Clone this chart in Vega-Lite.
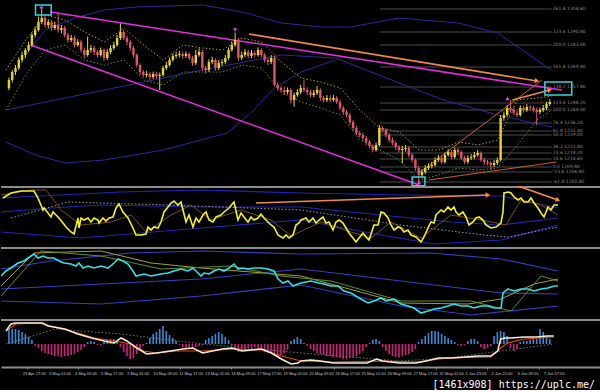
{
"$schema":"https://vega.github.io/schema/vega-lite/v6.json",
"background":"#000000",
"padding":0,
"spacing":0,
"config":{"view":{"stroke":null},"concat":{"spacing":0}},
"title":{"text":"[1461x908] https://uplc.me/","orient":"bottom","anchor":"end","color":"#ffffff","fontSize":10,"font":"DejaVu Sans Mono","fontWeight":"normal","offset":3,"dx":-7},
"datasets":{
"candles":[
{"i":0,"o":1257,"h":1263.5,"l":1255.8,"c":1262},{"i":1,"o":1262,"h":1268,"l":1260.5,"c":1266.8},{"i":2,"o":1266.8,"h":1271,"l":1265,"c":1269.2},{"i":3,"o":1269.2,"h":1275.5,"l":1268,"c":1274},{"i":4,"o":1274,"h":1279,"l":1272.5,"c":1277},{"i":5,"o":1277,"h":1281.2,"l":1275,"c":1280},{"i":6,"o":1280,"h":1285,"l":1279,"c":1283},{"i":7,"o":1283,"h":1290.5,"l":1282,"c":1289},{"i":8,"o":1289,"h":1294,"l":1287.5,"c":1292},{"i":9,"o":1292,"h":1300,"l":1291,"c":1296.8},
{"i":10,"o":1296.8,"h":1304.5,"l":1295.5,"c":1299.2},{"i":11,"o":1299.2,"h":1300.5,"l":1293.5,"c":1295},{"i":12,"o":1295,"h":1298.5,"l":1293,"c":1296.8},{"i":13,"o":1296.8,"h":1298,"l":1291.5,"c":1293.2},{"i":14,"o":1293.2,"h":1297,"l":1292,"c":1295},{"i":15,"o":1295,"h":1302,"l":1290.5,"c":1292},{"i":16,"o":1292,"h":1295,"l":1290,"c":1293.2},{"i":17,"o":1293.2,"h":1294.5,"l":1287.5,"c":1289},{"i":18,"o":1289,"h":1290.2,"l":1284.5,"c":1286},{"i":19,"o":1286,"h":1289,"l":1284.8,"c":1287.2},
{"i":20,"o":1287.2,"h":1288.5,"l":1281.5,"c":1283},{"i":21,"o":1283,"h":1286.5,"l":1282,"c":1284.8},{"i":22,"o":1284.8,"h":1286,"l":1278.5,"c":1280},{"i":23,"o":1280,"h":1281.5,"l":1275,"c":1277},{"i":24,"o":1277,"h":1288,"l":1276,"c":1280},{"i":25,"o":1280,"h":1283,"l":1278.5,"c":1281.2},{"i":26,"o":1281.2,"h":1282.5,"l":1277,"c":1278.8},{"i":27,"o":1278.8,"h":1280,"l":1275.5,"c":1277},{"i":28,"o":1277,"h":1281.5,"l":1276,"c":1280},{"i":29,"o":1280,"h":1281,"l":1273.5,"c":1275.2},
{"i":30,"o":1275.2,"h":1280.5,"l":1274,"c":1278.8},{"i":31,"o":1278.8,"h":1283,"l":1277.5,"c":1281.2},{"i":32,"o":1281.2,"h":1285,"l":1280,"c":1283},{"i":33,"o":1283,"h":1289,"l":1282,"c":1287.2},{"i":34,"o":1287.2,"h":1296,"l":1286,"c":1290.8},{"i":35,"o":1290.8,"h":1292,"l":1286,"c":1287.2},{"i":36,"o":1287.2,"h":1288.5,"l":1283,"c":1284.8},{"i":37,"o":1284.8,"h":1286,"l":1279.5,"c":1281.2},{"i":38,"o":1281.2,"h":1282.5,"l":1275.5,"c":1277},{"i":39,"o":1277,"h":1278,"l":1269.5,"c":1271},
{"i":40,"o":1271,"h":1272,"l":1265,"c":1266.8},{"i":41,"o":1266.8,"h":1268,"l":1263.5,"c":1265},{"i":42,"o":1265,"h":1267.5,"l":1263.5,"c":1265.6},{"i":43,"o":1265.6,"h":1266.8,"l":1262,"c":1263.8},{"i":44,"o":1263.8,"h":1267,"l":1262.5,"c":1265.6},{"i":45,"o":1265.6,"h":1267,"l":1262.8,"c":1264.4},{"i":46,"o":1264.4,"h":1266.5,"l":1256,"c":1265},{"i":47,"o":1265,"h":1270.5,"l":1264,"c":1269.2},{"i":48,"o":1269.2,"h":1273,"l":1268,"c":1271},{"i":49,"o":1271,"h":1275.5,"l":1270,"c":1274},
{"i":50,"o":1274,"h":1278,"l":1273,"c":1276.4},{"i":51,"o":1276.4,"h":1279,"l":1275,"c":1277},{"i":52,"o":1277,"h":1279.5,"l":1275.5,"c":1277.6},{"i":53,"o":1277.6,"h":1279,"l":1275,"c":1276.4},{"i":54,"o":1276.4,"h":1279,"l":1275.2,"c":1277.6},{"i":55,"o":1277.6,"h":1278.5,"l":1273.8,"c":1275.2},{"i":56,"o":1275.2,"h":1276.5,"l":1270.5,"c":1272.2},{"i":57,"o":1272.2,"h":1280,"l":1271,"c":1277},{"i":58,"o":1277,"h":1281,"l":1276,"c":1278.8},{"i":59,"o":1278.8,"h":1280,"l":1267.5,"c":1269.2},
{"i":60,"o":1269.2,"h":1270.5,"l":1266,"c":1268},{"i":61,"o":1268,"h":1274.5,"l":1266.8,"c":1272.8},{"i":62,"o":1272.8,"h":1276,"l":1271.5,"c":1274},{"i":63,"o":1274,"h":1275,"l":1267.5,"c":1269.2},{"i":64,"o":1269.2,"h":1274,"l":1268,"c":1272.2},{"i":65,"o":1272.2,"h":1274.5,"l":1270.5,"c":1272.8},{"i":66,"o":1272.8,"h":1277,"l":1271.5,"c":1275.2},{"i":67,"o":1275.2,"h":1281.5,"l":1274,"c":1280},{"i":68,"o":1280,"h":1285,"l":1279,"c":1283},{"i":69,"o":1283,"h":1290.5,"l":1282,"c":1286},
{"i":70,"o":1286,"h":1287.2,"l":1273.5,"c":1275.2},{"i":71,"o":1275.2,"h":1279,"l":1274,"c":1277},{"i":72,"o":1277,"h":1280.5,"l":1275.8,"c":1278.8},{"i":73,"o":1278.8,"h":1280,"l":1275,"c":1276.4},{"i":74,"o":1276.4,"h":1280,"l":1275.2,"c":1278.2},{"i":75,"o":1278.2,"h":1279.5,"l":1275.5,"c":1277},{"i":76,"o":1277,"h":1281.5,"l":1276,"c":1280},{"i":77,"o":1280,"h":1281,"l":1275.5,"c":1277},{"i":78,"o":1277,"h":1278.2,"l":1272.5,"c":1274},{"i":79,"o":1274,"h":1275.5,"l":1271,"c":1272.8},
{"i":80,"o":1272.8,"h":1277,"l":1271.5,"c":1275.2},{"i":81,"o":1275.2,"h":1276.5,"l":1258,"c":1259},{"i":82,"o":1259,"h":1260.5,"l":1255.5,"c":1257.2},{"i":83,"o":1257.2,"h":1258.5,"l":1254.5,"c":1256},{"i":84,"o":1256,"h":1258,"l":1253,"c":1254.8},{"i":85,"o":1254.8,"h":1257.5,"l":1253.5,"c":1256},{"i":86,"o":1256,"h":1257,"l":1248,"c":1250},{"i":87,"o":1250,"h":1254.5,"l":1246,"c":1253},{"i":88,"o":1253,"h":1256.5,"l":1252,"c":1254.8},{"i":89,"o":1254.8,"h":1259,"l":1253.5,"c":1257.2},
{"i":90,"o":1257.2,"h":1262,"l":1254.8,"c":1256},{"i":91,"o":1256,"h":1257.5,"l":1253,"c":1254.8},{"i":92,"o":1254.8,"h":1256,"l":1251.5,"c":1253},{"i":93,"o":1253,"h":1256,"l":1251.8,"c":1254.2},{"i":94,"o":1254.2,"h":1258.5,"l":1253,"c":1256},{"i":95,"o":1256,"h":1257,"l":1249.5,"c":1251.2},{"i":96,"o":1251.2,"h":1252.5,"l":1248.5,"c":1250},{"i":97,"o":1250,"h":1253,"l":1248.8,"c":1251.2},{"i":98,"o":1251.2,"h":1252.8,"l":1248.5,"c":1250},{"i":99,"o":1250,"h":1253,"l":1249,"c":1251.2},
{"i":100,"o":1251.2,"h":1252.5,"l":1247.5,"c":1248.8},{"i":101,"o":1248.8,"h":1250,"l":1243.8,"c":1245.2},{"i":102,"o":1245.2,"h":1246.5,"l":1241,"c":1242.8},{"i":103,"o":1242.8,"h":1244,"l":1239.5,"c":1241},{"i":104,"o":1241,"h":1242.2,"l":1235,"c":1236.8},{"i":105,"o":1236.8,"h":1238,"l":1231.5,"c":1233.2},{"i":106,"o":1233.2,"h":1234.5,"l":1228.8,"c":1230.2},{"i":107,"o":1230.2,"h":1231.5,"l":1227.5,"c":1229},{"i":108,"o":1229,"h":1230.5,"l":1225.5,"c":1227.2},{"i":109,"o":1227.2,"h":1228.5,"l":1223,"c":1224.8},
{"i":110,"o":1224.8,"h":1226,"l":1221,"c":1222.4},{"i":111,"o":1222.4,"h":1223.5,"l":1218.5,"c":1220},{"i":112,"o":1220,"h":1224.5,"l":1219,"c":1223},{"i":113,"o":1223,"h":1235,"l":1222,"c":1233.2},{"i":114,"o":1233.2,"h":1234.5,"l":1230.5,"c":1232},{"i":115,"o":1232,"h":1233,"l":1227.5,"c":1229},{"i":116,"o":1229,"h":1230.2,"l":1224.5,"c":1226},{"i":117,"o":1226,"h":1227.5,"l":1222.8,"c":1224.2},{"i":118,"o":1224.2,"h":1225.5,"l":1220,"c":1221.8},{"i":119,"o":1221.8,"h":1223,"l":1218.5,"c":1220},
{"i":120,"o":1220,"h":1222.5,"l":1212,"c":1220.6},{"i":121,"o":1220.6,"h":1223,"l":1219,"c":1221.2},{"i":122,"o":1221.2,"h":1222.5,"l":1215.5,"c":1217},{"i":123,"o":1217,"h":1218.2,"l":1212.5,"c":1214},{"i":124,"o":1214,"h":1215,"l":1207.5,"c":1209.2},{"i":125,"o":1209.2,"h":1210.5,"l":1200.5,"c":1205},{"i":126,"o":1205,"h":1208.5,"l":1203.5,"c":1206.8},{"i":127,"o":1206.8,"h":1211,"l":1205.5,"c":1209.2},{"i":128,"o":1209.2,"h":1212,"l":1208,"c":1210.4},{"i":129,"o":1210.4,"h":1213,"l":1209,"c":1211},
{"i":130,"o":1211,"h":1215.5,"l":1210,"c":1214},{"i":131,"o":1214,"h":1217,"l":1212.8,"c":1215.2},{"i":132,"o":1215.2,"h":1216.5,"l":1211.5,"c":1212.8},{"i":133,"o":1212.8,"h":1218.5,"l":1211.8,"c":1217},{"i":134,"o":1217,"h":1220.5,"l":1216,"c":1218.8},{"i":135,"o":1218.8,"h":1220,"l":1214.5,"c":1215.8},{"i":136,"o":1215.8,"h":1221.5,"l":1214.8,"c":1220},{"i":137,"o":1220,"h":1221.2,"l":1217,"c":1218.8},{"i":138,"o":1218.8,"h":1219.8,"l":1213.8,"c":1215.2},{"i":139,"o":1215.2,"h":1216.5,"l":1211.5,"c":1212.8},
{"i":140,"o":1212.8,"h":1216.8,"l":1211.8,"c":1215.2},{"i":141,"o":1215.2,"h":1217.5,"l":1214,"c":1215.8},{"i":142,"o":1215.8,"h":1218.8,"l":1214.5,"c":1217},{"i":143,"o":1217,"h":1220,"l":1216,"c":1218.2},{"i":144,"o":1218.2,"h":1219.2,"l":1212.8,"c":1214},{"i":145,"o":1214,"h":1215.2,"l":1211.2,"c":1212.8},{"i":146,"o":1212.8,"h":1214,"l":1210.8,"c":1212.2},{"i":147,"o":1212.2,"h":1213.5,"l":1208,"c":1211},{"i":148,"o":1211,"h":1214,"l":1209.8,"c":1212.2},{"i":149,"o":1212.2,"h":1215.5,"l":1211,"c":1214},
{"i":150,"o":1214,"h":1241,"l":1213,"c":1239.2},{"i":151,"o":1239.2,"h":1243,"l":1237.5,"c":1241},{"i":152,"o":1241,"h":1247,"l":1240,"c":1245.2},{"i":153,"o":1245.2,"h":1250,"l":1242.8,"c":1244},{"i":154,"o":1244,"h":1245.5,"l":1240.8,"c":1242.2},{"i":155,"o":1242.2,"h":1243.5,"l":1239.5,"c":1241},{"i":156,"o":1241,"h":1246.8,"l":1240,"c":1245.2},{"i":157,"o":1245.2,"h":1246.5,"l":1242.5,"c":1244},{"i":158,"o":1244,"h":1247.5,"l":1242.8,"c":1245.8},{"i":159,"o":1245.8,"h":1247,"l":1243.5,"c":1245.2},
{"i":160,"o":1245.2,"h":1246.5,"l":1242.5,"c":1244},{"i":161,"o":1244,"h":1245.5,"l":1235,"c":1242.8},{"i":162,"o":1242.8,"h":1245.5,"l":1241.5,"c":1244},{"i":163,"o":1244,"h":1247,"l":1242.8,"c":1245.2},{"i":164,"o":1245.2,"h":1249,"l":1244,"c":1247.6},{"i":165,"o":1247.6,"h":1250.5,"l":1246.5,"c":1248.8}
],
"bands":[
{"s":"U","i":5.1,"p":1277},{"s":"U","i":11.1,"p":1292},{"s":"U","i":20.1,"p":1299.2},{"s":"U","i":29.1,"p":1304},{"s":"U","i":39,"p":1305.8},{"s":"U","i":59.1,"p":1307},{"s":"U","i":71.1,"p":1302.8},{"s":"U","i":83.1,"p":1296.2},{"s":"U","i":95.1,"p":1293.8},{"s":"U","i":104.1,"p":1293.8},{"s":"U","i":119.1,"p":1299.2},{"s":"U","i":137.1,"p":1296.2},{"s":"U","i":149.1,"p":1290.2},{"s":"U","i":164.1,"p":1269.8},{"s":"U","i":165.6,"p":1268},
{"s":"A","i":-0.9,"p":1244},{"s":"A","i":29.1,"p":1256},{"s":"A","i":59.1,"p":1268},{"s":"A","i":83.1,"p":1277},{"s":"A","i":99.6,"p":1275.2},{"s":"A","i":119.1,"p":1260.2},{"s":"A","i":132.6,"p":1250},{"s":"A","i":149.1,"p":1241},{"s":"A","i":165.6,"p":1233.8},
{"s":"L","i":-0.9,"p":1224.8},{"s":"L","i":8.1,"p":1217},{"s":"L","i":17.1,"p":1212.2},{"s":"L","i":29.1,"p":1214},{"s":"L","i":47.1,"p":1220},{"s":"L","i":66.6,"p":1230.2},{"s":"L","i":74.1,"p":1242.8},{"s":"L","i":81,"p":1257.2},{"s":"L","i":89.1,"p":1266.8},{"s":"L","i":99.6,"p":1274}
],
"dots":[
{"s":"dU","i":-0.9,"p":1268},{"s":"dU","i":5.1,"p":1286},{"s":"dU","i":11.1,"p":1301},{"s":"dU","i":17.1,"p":1298},{"s":"dU","i":23.1,"p":1290.8},{"s":"dU","i":29.1,"p":1284.8},{"s":"dU","i":35.1,"p":1293.2},{"s":"dU","i":41.1,"p":1283},{"s":"dU","i":47.1,"p":1274},{"s":"dU","i":53.1,"p":1283},{"s":"dU","i":59.1,"p":1281.2},{"s":"dU","i":65.1,"p":1280},{"s":"dU","i":71.1,"p":1287.2},{"s":"dU","i":77.1,"p":1284.8},{"s":"dU","i":83.1,"p":1272.8},{"s":"dU","i":89.1,"p":1263.2},{"s":"dU","i":95.1,"p":1260.8},{"s":"dU","i":101.1,"p":1257.2},{"s":"dU","i":107.1,"p":1244},{"s":"dU","i":113.1,"p":1233.2},{"s":"dU","i":119.1,"p":1230.8},{"s":"dU","i":125.1,"p":1220},{"s":"dU","i":131.1,"p":1220},{"s":"dU","i":137.1,"p":1224.8},{"s":"dU","i":143.1,"p":1223},{"s":"dU","i":149.1,"p":1226},{"s":"dU","i":155.1,"p":1250},{"s":"dU","i":161.1,"p":1251.2},{"s":"dU","i":165.6,"p":1252.4},
{"s":"dL","i":-0.9,"p":1244},{"s":"dL","i":5.1,"p":1265},{"s":"dL","i":11.1,"p":1280},{"s":"dL","i":17.1,"p":1283},{"s":"dL","i":23.1,"p":1274},{"s":"dL","i":29.1,"p":1271},{"s":"dL","i":35.1,"p":1274},{"s":"dL","i":41.1,"p":1262},{"s":"dL","i":47.1,"p":1259},{"s":"dL","i":53.1,"p":1266.8},{"s":"dL","i":59.1,"p":1266.8},{"s":"dL","i":65.1,"p":1266.8},{"s":"dL","i":71.1,"p":1271},{"s":"dL","i":77.1,"p":1269.2},{"s":"dL","i":83.1,"p":1254.8},{"s":"dL","i":89.1,"p":1248.8},{"s":"dL","i":95.1,"p":1245.2},{"s":"dL","i":101.1,"p":1241},{"s":"dL","i":107.1,"p":1226},{"s":"dL","i":113.1,"p":1220},{"s":"dL","i":119.1,"p":1214},{"s":"dL","i":125.1,"p":1202},{"s":"dL","i":131.1,"p":1205},{"s":"dL","i":137.1,"p":1209.2},{"s":"dL","i":143.1,"p":1208},{"s":"dL","i":149.1,"p":1209.2},{"s":"dL","i":155.1,"p":1223},{"s":"dL","i":161.1,"p":1238},{"s":"dL","i":165.6,"p":1244}
],
"trend":[
{"s":"chU","i":12.6,"p":1302.8},{"s":"chU","i":168.6,"p":1256},
{"s":"chL","i":6.6,"p":1283},{"s":"chL","i":125.1,"p":1199},
{"s":"oT1","i":125.1,"p":1206.2},{"s":"oT1","i":162.6,"p":1262},
{"s":"oT2","i":128.1,"p":1202},{"s":"oT2","i":167.1,"p":1212.8},
{"s":"A1","i":73.2,"p":1289.6},{"s":"A1","i":161.1,"p":1261.4},
{"s":"A2","i":153.6,"p":1250},{"s":"A2","i":165,"p":1256}
],
"fib":[
{"p":1304.6,"t":"261.8  1304.60"},{"p":1290.8,"t":"223.6  1290.80"},{"p":1283.0,"t":"200.0  1283.00"},{"p":1269.8,"t":"161.8  1269.80"},{"p":1257.8,"t":"138.2  1257.80"},{"p":1248.2,"t":"123.6  1248.20"},{"p":1244.0,"t":"100.0  1244.00"},{"p":1236.2,"t":"76.4  1236.20"},{"p":1231.4,"t":"61.8  1231.40"},{"p":1229.0,"t":"50.0  1229.00"},{"p":1221.8,"t":"38.2  1221.80"},{"p":1218.2,"t":"23.6  1218.20"},{"p":1214.6,"t":"14.6  1214.60"},{"p":1209.8,"t":"0.0  1209.80"},{"p":1206.8,"t":"-23.6  1206.80"},{"p":1200.8,"t":"-61.8  1200.80"}
],
"boxes":[
{"i1":8.1,"i2":12.9,"p1":1307,"p2":1301},{"i1":123,"i2":126.9,"p1":1203.8,"p2":1198.6},{"i1":163.5,"i2":171.7,"p1":1260.8,"p2":1253}
],
"marks":[
{"i":9.9,"p":1305,"k":"down"},{"i":125.1,"p":1200.6,"k":"up"},{"i":69,"p":1292,"k":"down"},{"i":152.1,"p":1251,"k":"up"}
],
"rsi":[
{"s":"Y","i":-0.3,"v":48},{"s":"Y","i":2.1,"v":53},{"s":"Y","i":5.1,"v":55},{"s":"Y","i":9,"v":55},{"s":"Y","i":10.2,"v":48},{"s":"Y","i":11.7,"v":36},{"s":"Y","i":12,"v":38},{"s":"Y","i":13.2,"v":33},{"s":"Y","i":14.1,"v":29},{"s":"Y","i":14.7,"v":34},{"s":"Y","i":15.6,"v":31},{"s":"Y","i":16.5,"v":28},{"s":"Y","i":17.7,"v":23},{"s":"Y","i":18.6,"v":19},{"s":"Y","i":20.1,"v":14},{"s":"Y","i":21,"v":12},{"s":"Y","i":22.2,"v":28},{"s":"Y","i":22.5,"v":18},{"s":"Y","i":23.1,"v":28},{"s":"Y","i":24,"v":26},{"s":"Y","i":25.2,"v":28},{"s":"Y","i":26.1,"v":24},{"s":"Y","i":27,"v":28},{"s":"Y","i":28.2,"v":26},{"s":"Y","i":28.5,"v":23},{"s":"Y","i":29.7,"v":28},{"s":"Y","i":30.6,"v":25},{"s":"Y","i":31.5,"v":28},{"s":"Y","i":32.7,"v":29},{"s":"Y","i":33.6,"v":38},{"s":"Y","i":34.5,"v":42},{"s":"Y","i":35.7,"v":34},{"s":"Y","i":37.2,"v":28},{"s":"Y","i":38.7,"v":18},{"s":"Y","i":39.6,"v":11},{"s":"Y","i":41.1,"v":11},{"s":"Y","i":42.6,"v":12},{"s":"Y","i":43.2,"v":19},{"s":"Y","i":44.1,"v":16},{"s":"Y","i":45,"v":19},{"s":"Y","i":46.2,"v":18},{"s":"Y","i":47.1,"v":24},{"s":"Y","i":48,"v":34},{"s":"Y","i":49.2,"v":39},{"s":"Y","i":50.1,"v":43},{"s":"Y","i":51,"v":45},{"s":"Y","i":52.2,"v":41},{"s":"Y","i":53.1,"v":44},{"s":"Y","i":53.7,"v":36},{"s":"Y","i":54.6,"v":24},{"s":"Y","i":55.5,"v":31},{"s":"Y","i":56.7,"v":19},{"s":"Y","i":57.6,"v":28},{"s":"Y","i":58.5,"v":24},{"s":"Y","i":59.7,"v":31},{"s":"Y","i":60.6,"v":34},{"s":"Y","i":61.5,"v":26},{"s":"Y","i":62.7,"v":24},{"s":"Y","i":63.6,"v":29},{"s":"Y","i":65.1,"v":31},{"s":"Y","i":66,"v":34},{"s":"Y","i":67.5,"v":38},{"s":"Y","i":68.7,"v":43},{"s":"Y","i":69,"v":44},{"s":"Y","i":70.2,"v":26},{"s":"Y","i":71.1,"v":33},{"s":"Y","i":72,"v":29},{"s":"Y","i":73.2,"v":24},{"s":"Y","i":74.1,"v":29},{"s":"Y","i":75,"v":26},{"s":"Y","i":76.2,"v":28},{"s":"Y","i":77.1,"v":32},{"s":"Y","i":78,"v":28},{"s":"Y","i":79.2,"v":24},{"s":"Y","i":80.1,"v":21},{"s":"Y","i":81,"v":19},{"s":"Y","i":82.2,"v":11},{"s":"Y","i":83.7,"v":8},{"s":"Y","i":84.6,"v":11},{"s":"Y","i":85.5,"v":8},{"s":"Y","i":86.7,"v":11},{"s":"Y","i":87.6,"v":21},{"s":"Y","i":88.5,"v":23},{"s":"Y","i":89.1,"v":26},{"s":"Y","i":90.6,"v":28},{"s":"Y","i":91.5,"v":24},{"s":"Y","i":92.7,"v":28},{"s":"Y","i":93.6,"v":23},{"s":"Y","i":94.5,"v":26},{"s":"Y","i":95.7,"v":29},{"s":"Y","i":96.6,"v":23},{"s":"Y","i":97.5,"v":24},{"s":"Y","i":98.7,"v":16},{"s":"Y","i":99.6,"v":24},{"s":"Y","i":100.5,"v":26},{"s":"Y","i":101.7,"v":23},{"s":"Y","i":102.6,"v":18},{"s":"Y","i":103.5,"v":13},{"s":"Y","i":104.7,"v":8},{"s":"Y","i":105.6,"v":4},{"s":"Y","i":106.5,"v":8},{"s":"Y","i":107.7,"v":13},{"s":"Y","i":108.6,"v":9},{"s":"Y","i":109.5,"v":6},{"s":"Y","i":110.7,"v":18},{"s":"Y","i":111,"v":21},{"s":"Y","i":112.2,"v":21},{"s":"Y","i":113.1,"v":34},{"s":"Y","i":114,"v":33},{"s":"Y","i":115.2,"v":28},{"s":"Y","i":116.1,"v":21},{"s":"Y","i":117,"v":16},{"s":"Y","i":118.2,"v":19},{"s":"Y","i":119.1,"v":18},{"s":"Y","i":120,"v":14},{"s":"Y","i":121.2,"v":16},{"s":"Y","i":122.1,"v":11},{"s":"Y","i":123.6,"v":9},{"s":"Y","i":125.1,"v":4},{"s":"Y","i":126,"v":9},{"s":"Y","i":127.2,"v":18},{"s":"Y","i":128.1,"v":24},{"s":"Y","i":129,"v":23},{"s":"Y","i":129.6,"v":31},{"s":"Y","i":130.2,"v":33},{"s":"Y","i":131.1,"v":36},{"s":"Y","i":132,"v":34},{"s":"Y","i":133.2,"v":39},{"s":"Y","i":134.1,"v":36},{"s":"Y","i":135,"v":39},{"s":"Y","i":135.6,"v":34},{"s":"Y","i":136.5,"v":31},{"s":"Y","i":137.7,"v":34},{"s":"Y","i":138.6,"v":29},{"s":"Y","i":139.5,"v":21},{"s":"Y","i":140.7,"v":24},{"s":"Y","i":141.6,"v":28},{"s":"Y","i":142.5,"v":29},{"s":"Y","i":143.7,"v":26},{"s":"Y","i":144.6,"v":21},{"s":"Y","i":146.1,"v":18},{"s":"Y","i":147.6,"v":19},{"s":"Y","i":149.1,"v":23},{"s":"Y","i":149.7,"v":34},{"s":"Y","i":150,"v":53},{"s":"Y","i":151.2,"v":54},{"s":"Y","i":152.1,"v":53},{"s":"Y","i":153,"v":49},{"s":"Y","i":154.2,"v":46},{"s":"Y","i":155.1,"v":48},{"s":"Y","i":156,"v":44},{"s":"Y","i":157.2,"v":44},{"s":"Y","i":158.1,"v":48},{"s":"Y","i":159,"v":43},{"s":"Y","i":160.2,"v":38},{"s":"Y","i":161.1,"v":33},{"s":"Y","i":162,"v":29},{"s":"Y","i":162.6,"v":34},{"s":"Y","i":163.2,"v":39},{"s":"Y","i":164.1,"v":36},{"s":"Y","i":165,"v":41},{"s":"Y","i":166.2,"v":41},
{"s":"U","i":-0.9,"v":48},{"s":"U","i":17.1,"v":51},{"s":"U","i":35.1,"v":54},{"s":"U","i":59.1,"v":56},{"s":"U","i":89.1,"v":53},{"s":"U","i":119.1,"v":51},{"s":"U","i":149.1,"v":50},{"s":"U","i":166.2,"v":38},
{"s":"M","i":-0.9,"v":34},{"s":"M","i":14.1,"v":38},{"s":"M","i":29.1,"v":41},{"s":"M","i":59.1,"v":39},{"s":"M","i":89.1,"v":39},{"s":"M","i":119.1,"v":29},{"s":"M","i":134.1,"v":24},{"s":"M","i":149.1,"v":21},{"s":"M","i":166.2,"v":28},
{"s":"L","i":-0.9,"v":14},{"s":"L","i":23.1,"v":8},{"s":"L","i":59.1,"v":18},{"s":"L","i":89.1,"v":26},{"s":"L","i":113.1,"v":11},{"s":"L","i":129,"v":2},{"s":"L","i":149.1,"v":6},{"s":"L","i":166.2,"v":21},
{"s":"D","i":2.1,"v":28},{"s":"D","i":19.2,"v":44},{"s":"D","i":49.2,"v":41},{"s":"D","i":89.1,"v":36},{"s":"D","i":119.1,"v":21},{"s":"D","i":144,"v":11},{"s":"D","i":151.2,"v":9},{"s":"D","i":166.2,"v":19},
{"s":"B","i":-0.9,"v":51},{"s":"B","i":8.1,"v":56},{"s":"B","i":12.6,"v":56},{"s":"B","i":17.1,"v":36},{"s":"B","i":23.1,"v":21},{"s":"B","i":32.1,"v":24},{"s":"B","i":38.1,"v":31},{"s":"B","i":42.6,"v":14},{"s":"B","i":50.1,"v":31},{"s":"B","i":56.1,"v":41},{"s":"B","i":62.1,"v":26},{"s":"B","i":71.1,"v":36},{"s":"B","i":80.1,"v":26},{"s":"B","i":86.1,"v":10},{"s":"B","i":95.1,"v":24},{"s":"B","i":104.1,"v":14},{"s":"B","i":110.1,"v":8},{"s":"B","i":116.1,"v":24},{"s":"B","i":125.1,"v":8},{"s":"B","i":134.1,"v":31},{"s":"B","i":143.1,"v":26},{"s":"B","i":150.6,"v":21},{"s":"B","i":155.1,"v":46},{"s":"B","i":161.1,"v":41},{"s":"B","i":166.2,"v":31},
{"s":"A3","i":75.6,"v":43},{"s":"A3","i":145.2,"v":51},
{"s":"A4","i":154.2,"v":60},{"s":"A4","i":166.2,"v":46}
],
"cy":[
{"s":"C","i":-0.9,"v":43},{"s":"C","i":0.6,"v":48},{"s":"C","i":2.1,"v":51},{"s":"C","i":4.2,"v":56},{"s":"C","i":6,"v":58},{"s":"C","i":8.1,"v":63},{"s":"C","i":9,"v":65},{"s":"C","i":10.2,"v":61},{"s":"C","i":11.7,"v":63},{"s":"C","i":13.2,"v":61},{"s":"C","i":15,"v":61},{"s":"C","i":16.5,"v":58},{"s":"C","i":18,"v":56},{"s":"C","i":20.1,"v":55},{"s":"C","i":21.6,"v":53},{"s":"C","i":22.5,"v":56},{"s":"C","i":23.7,"v":51},{"s":"C","i":25.2,"v":53},{"s":"C","i":27,"v":51},{"s":"C","i":29.1,"v":53},{"s":"C","i":31.2,"v":51},{"s":"C","i":33,"v":56},{"s":"C","i":34.2,"v":60},{"s":"C","i":35.7,"v":58},{"s":"C","i":37.2,"v":55},{"s":"C","i":38.7,"v":48},{"s":"C","i":39.6,"v":43},{"s":"C","i":42,"v":45},{"s":"C","i":44.1,"v":43},{"s":"C","i":47.1,"v":45},{"s":"C","i":49.2,"v":46},{"s":"C","i":51,"v":48},{"s":"C","i":53.1,"v":50},{"s":"C","i":55.2,"v":48},{"s":"C","i":56.7,"v":51},{"s":"C","i":58.2,"v":46},{"s":"C","i":59.1,"v":43},{"s":"C","i":60,"v":46},{"s":"C","i":61.5,"v":45},{"s":"C","i":63,"v":48},{"s":"C","i":64.5,"v":50},{"s":"C","i":66,"v":48},{"s":"C","i":67.5,"v":51},{"s":"C","i":69,"v":55},{"s":"C","i":70.2,"v":50},{"s":"C","i":71.7,"v":51},{"s":"C","i":73.2,"v":50},{"s":"C","i":75,"v":51},{"s":"C","i":77.1,"v":51},{"s":"C","i":79.2,"v":50},{"s":"C","i":81,"v":48},{"s":"C","i":82.2,"v":40},{"s":"C","i":83.7,"v":36},{"s":"C","i":85.2,"v":38},{"s":"C","i":86.7,"v":33},{"s":"C","i":88.2,"v":35},{"s":"C","i":89.1,"v":36},{"s":"C","i":92.1,"v":38},{"s":"C","i":94.5,"v":36},{"s":"C","i":96,"v":35},{"s":"C","i":98.1,"v":33},{"s":"C","i":100.2,"v":33},{"s":"C","i":102,"v":28},{"s":"C","i":104.1,"v":26},{"s":"C","i":106.5,"v":21},{"s":"C","i":109.2,"v":16},{"s":"C","i":111,"v":18},{"s":"C","i":113.1,"v":21},{"s":"C","i":114.6,"v":18},{"s":"C","i":117,"v":20},{"s":"C","i":119.1,"v":15},{"s":"C","i":121.2,"v":13},{"s":"C","i":123,"v":11},{"s":"C","i":125.1,"v":6},{"s":"C","i":127.2,"v":8},{"s":"C","i":129,"v":10},{"s":"C","i":131.1,"v":11},{"s":"C","i":133.2,"v":13},{"s":"C","i":135,"v":15},{"s":"C","i":137.1,"v":13},{"s":"C","i":139.2,"v":13},{"s":"C","i":141,"v":11},{"s":"C","i":143.1,"v":13},{"s":"C","i":145.2,"v":13},{"s":"C","i":147,"v":11},{"s":"C","i":149.1,"v":11},{"s":"C","i":149.7,"v":26},{"s":"C","i":151.2,"v":30},{"s":"C","i":153,"v":28},{"s":"C","i":155.1,"v":30},{"s":"C","i":157.2,"v":30},{"s":"C","i":159,"v":28},{"s":"C","i":161.1,"v":30},{"s":"C","i":163.2,"v":31},{"s":"C","i":165,"v":33},{"s":"C","i":166.2,"v":33},
{"s":"B1","i":-0.9,"v":50},{"s":"B1","i":14.1,"v":58},{"s":"B1","i":38.1,"v":66},{"s":"B1","i":59.1,"v":68},{"s":"B1","i":89.1,"v":65},{"s":"B1","i":128.1,"v":66},{"s":"B1","i":149.1,"v":60},{"s":"B1","i":166.2,"v":48},
{"s":"B2","i":-0.9,"v":30},{"s":"B2","i":29.1,"v":35},{"s":"B2","i":59.1,"v":40},{"s":"B2","i":89.1,"v":50},{"s":"B2","i":119.1,"v":38},{"s":"B2","i":149.1,"v":26},{"s":"B2","i":166.2,"v":25},
{"s":"B3","i":-0.9,"v":18},{"s":"B3","i":29.1,"v":15},{"s":"B3","i":59.1,"v":23},{"s":"B3","i":89.1,"v":34},{"s":"B3","i":119.1,"v":13},{"s":"B3","i":140.1,"v":4},{"s":"B3","i":166.2,"v":13},
{"s":"R","i":-0.9,"v":33},{"s":"R","i":9,"v":66},{"s":"R","i":29.1,"v":68},{"s":"R","i":44.1,"v":56},{"s":"R","i":59.1,"v":51},{"s":"R","i":89.1,"v":43},{"s":"R","i":119.1,"v":16},{"s":"R","i":139.2,"v":15},{"s":"R","i":149.1,"v":20},{"s":"R","i":159,"v":35},{"s":"R","i":166.2,"v":40},
{"s":"O","i":-0.9,"v":23},{"s":"O","i":11.1,"v":68},{"s":"O","i":29.1,"v":63},{"s":"O","i":47.1,"v":50},{"s":"O","i":68.1,"v":53},{"s":"O","i":83.1,"v":43},{"s":"O","i":98.1,"v":38},{"s":"O","i":119.1,"v":18},{"s":"O","i":140.1,"v":18},{"s":"O","i":152.1,"v":8},{"s":"O","i":161.1,"v":43},{"s":"O","i":166.2,"v":38}
],
"hist":[
{"i":0,"v":16},{"i":1,"v":15},{"i":2,"v":15},{"i":3,"v":14},{"i":4,"v":12},{"i":5,"v":10},{"i":6,"v":7},{"i":7,"v":4},{"i":8,"v":-2},{"i":9,"v":-4},{"i":10,"v":-7},{"i":11,"v":-9},{"i":12,"v":-10},{"i":13,"v":-11},{"i":14,"v":-12},{"i":15,"v":-12},{"i":16,"v":-13},{"i":17,"v":-12},{"i":18,"v":-12},{"i":19,"v":-11},{"i":20,"v":-10},{"i":21,"v":-8},{"i":22,"v":-6},{"i":23,"v":-3},{"i":24,"v":2},{"i":25,"v":3},{"i":26,"v":2},{"i":27,"v":-1},{"i":28,"v":-1},{"i":29,"v":2},{"i":30,"v":4},{"i":31,"v":5},{"i":32,"v":5},{"i":33,"v":3},{"i":34,"v":-3},{"i":35,"v":-8},{"i":36,"v":-12},{"i":37,"v":-15},{"i":38,"v":-14},{"i":39,"v":-10},{"i":40,"v":-5},{"i":41,"v":-2},{"i":42,"v":1},{"i":43,"v":6},{"i":44,"v":10},{"i":45,"v":12},{"i":46,"v":15},{"i":47,"v":18},{"i":48,"v":13},{"i":49,"v":9},{"i":50,"v":6},{"i":51,"v":3},{"i":52,"v":-1},{"i":53,"v":-3},{"i":54,"v":-4},{"i":55,"v":-4},{"i":56,"v":-5},{"i":57,"v":-3},{"i":58,"v":-2},{"i":59,"v":-1},{"i":60,"v":4},{"i":61,"v":6},{"i":62,"v":8},{"i":63,"v":10},{"i":64,"v":12},{"i":65,"v":10},{"i":66,"v":7},{"i":67,"v":4},{"i":68,"v":-2},{"i":69,"v":-5},{"i":70,"v":-8},{"i":71,"v":-6},{"i":72,"v":-5},{"i":73,"v":-4},{"i":74,"v":-4},{"i":75,"v":-3},{"i":76,"v":-5},{"i":77,"v":-6},{"i":78,"v":-8},{"i":79,"v":-9},{"i":80,"v":-10},{"i":81,"v":-12},{"i":82,"v":-13},{"i":83,"v":-11},{"i":84,"v":-9},{"i":85,"v":-6},{"i":86,"v":3},{"i":87,"v":5},{"i":88,"v":7},{"i":89,"v":5},{"i":90,"v":1},{"i":91,"v":-2},{"i":92,"v":-5},{"i":93,"v":-7},{"i":94,"v":-9},{"i":95,"v":-10},{"i":96,"v":-11},{"i":97,"v":-12},{"i":98,"v":-12},{"i":99,"v":-13},{"i":100,"v":-13},{"i":101,"v":-14},{"i":102,"v":-15},{"i":103,"v":-15},{"i":104,"v":-14},{"i":105,"v":-13},{"i":106,"v":-12},{"i":107,"v":-10},{"i":108,"v":-7},{"i":109,"v":-3},{"i":110,"v":1},{"i":111,"v":4},{"i":112,"v":5},{"i":113,"v":3},{"i":114,"v":-3},{"i":115,"v":-7},{"i":116,"v":-10},{"i":117,"v":-12},{"i":118,"v":-13},{"i":119,"v":-13},{"i":120,"v":-12},{"i":121,"v":-11},{"i":122,"v":-10},{"i":123,"v":-8},{"i":124,"v":-5},{"i":125,"v":2},{"i":126,"v":5},{"i":127,"v":8},{"i":128,"v":11},{"i":129,"v":13},{"i":130,"v":13},{"i":131,"v":12},{"i":132,"v":10},{"i":133,"v":8},{"i":134,"v":6},{"i":135,"v":4},{"i":136,"v":2},{"i":137,"v":-1},{"i":138,"v":-2},{"i":139,"v":-1},{"i":140,"v":3},{"i":141,"v":5},{"i":142,"v":5},{"i":143,"v":3},{"i":144,"v":-3},{"i":145,"v":-5},{"i":146,"v":-4},{"i":147,"v":-2},{"i":148,"v":8},{"i":149,"v":12},{"i":150,"v":13},{"i":151,"v":12},{"i":152,"v":8},{"i":153,"v":-4},{"i":154,"v":-7},{"i":155,"v":-5},{"i":156,"v":2},{"i":157,"v":3},{"i":158,"v":3},{"i":159,"v":4},{"i":160,"v":5},{"i":161,"v":5},{"i":162,"v":15},{"i":163,"v":12},{"i":164,"v":8},{"i":165,"v":5}
],
"macd":[
{"s":"W","i":-0.9,"v":13},{"s":"W","i":0.6,"v":20},{"s":"W","i":2.1,"v":21},{"s":"W","i":10.2,"v":21},{"s":"W","i":12,"v":18},{"s":"W","i":17.1,"v":15},{"s":"W","i":21,"v":10},{"s":"W","i":25.2,"v":6},{"s":"W","i":29.1,"v":3},{"s":"W","i":32.1,"v":1},{"s":"W","i":34.2,"v":6},{"s":"W","i":36,"v":3},{"s":"W","i":39,"v":-4},{"s":"W","i":42,"v":-10},{"s":"W","i":45,"v":-9},{"s":"W","i":49.2,"v":-7},{"s":"W","i":53.1,"v":-5},{"s":"W","i":56.1,"v":-4},{"s":"W","i":59.1,"v":-9},{"s":"W","i":62.1,"v":-7},{"s":"W","i":65.1,"v":-5},{"s":"W","i":68.1,"v":-4},{"s":"W","i":71.1,"v":-7},{"s":"W","i":74.1,"v":-6},{"s":"W","i":77.1,"v":-5},{"s":"W","i":80.1,"v":-9},{"s":"W","i":83.1,"v":-15},{"s":"W","i":86.1,"v":-20},{"s":"W","i":88.2,"v":-19},{"s":"W","i":89.1,"v":-17},{"s":"W","i":92.1,"v":-16},{"s":"W","i":95.1,"v":-17},{"s":"W","i":99,"v":-19},{"s":"W","i":104.1,"v":-19},{"s":"W","i":109.2,"v":-19},{"s":"W","i":112.2,"v":-15},{"s":"W","i":114,"v":-17},{"s":"W","i":119.1,"v":-19},{"s":"W","i":124.2,"v":-19},{"s":"W","i":127.2,"v":-17},{"s":"W","i":131.1,"v":-14},{"s":"W","i":135,"v":-14},{"s":"W","i":139.2,"v":-13},{"s":"W","i":143.1,"v":-12},{"s":"W","i":147,"v":-12},{"s":"W","i":149.1,"v":-7},{"s":"W","i":150,"v":5},{"s":"W","i":151.2,"v":6},{"s":"W","i":153,"v":6},{"s":"W","i":157.2,"v":7},{"s":"W","i":161.1,"v":7},{"s":"W","i":164.1,"v":8},{"s":"W","i":166.2,"v":8},
{"s":"O","i":-0.9,"v":13},{"s":"O","i":2.1,"v":20},{"s":"O","i":9,"v":21},{"s":"O","i":15,"v":16},{"s":"O","i":21,"v":11},{"s":"O","i":26.1,"v":6},{"s":"O","i":32.1,"v":3},{"s":"O","i":37.2,"v":0},{"s":"O","i":41.1,"v":-7},{"s":"O","i":45,"v":-9},{"s":"O","i":51,"v":-7},{"s":"O","i":59.1,"v":-7},{"s":"O","i":69,"v":-5},{"s":"O","i":77.1,"v":-6},{"s":"O","i":83.1,"v":-12},{"s":"O","i":89.1,"v":-17},{"s":"O","i":99,"v":-18},{"s":"O","i":114,"v":-17},{"s":"O","i":124.2,"v":-18},{"s":"O","i":134.1,"v":-14},{"s":"O","i":147,"v":-13},{"s":"O","i":150,"v":-4},{"s":"O","i":152.1,"v":1},{"s":"O","i":157.2,"v":5},{"s":"O","i":166.2,"v":7},
{"s":"D","i":-0.9,"v":0},{"s":"D","i":14.1,"v":15},{"s":"D","i":34.2,"v":10},{"s":"D","i":59.1,"v":0},{"s":"D","i":89.1,"v":-9},{"s":"D","i":119.1,"v":-17},{"s":"D","i":134.1,"v":-14},{"s":"D","i":166.2,"v":0}
],
"ticks":[
{"i":5.4,"t":"29 Apr 17:00"},{"i":13.21,"t":"3 May 01:00"},{"i":21.02,"t":"4 May 09:00"},{"i":28.83,"t":"5 May 17:00"},{"i":36.64,"t":"9 May 01:00"},{"i":44.45,"t":"10 May 09:00"},{"i":52.26,"t":"11 May 17:00"},{"i":60.07,"t":"13 May 01:00"},{"i":67.88,"t":"16 May 09:00"},{"i":75.69,"t":"17 May 17:00"},{"i":83.5,"t":"19 May 01:00"},{"i":91.31,"t":"20 May 09:00"},{"i":99.12,"t":"23 May 17:00"},{"i":106.93,"t":"25 May 01:00"},{"i":114.74,"t":"26 May 09:00"},{"i":122.55,"t":"27 May 17:00"},{"i":130.36,"t":"31 May 01:00"},{"i":138.17,"t":"1 Jun 13:00"},{"i":145.98,"t":"2 Jun 21:00"},{"i":153.79,"t":"6 Jun 09:00"},{"i":161.6,"t":"7 Jun 17:00"}
]
},
"vconcat":[
{"width":600,"height":186,
"layer":[
{"data":{"name":"fib"},"mark":{"type":"rule","color":"#4a4a4a","strokeWidth":1},
"encoding":{"x":{"datum":113.1,"type":"quantitative","scale":{"domain":[-0.9,179.1],"nice":false,"zero":false},"axis":null},"x2":{"datum":165.6},"y":{"field":"p","type":"quantitative","scale":{"domain":[1198.4,1310],"nice":false,"zero":false},"axis":null}}},
{"data":{"name":"fib"},"mark":{"type":"text","color":"#8c8c8c","fontSize":4.5,"align":"left","baseline":"middle","font":"DejaVu Sans"},
"encoding":{"x":{"datum":165.9,"type":"quantitative","scale":{"domain":[-0.9,179.1],"nice":false,"zero":false},"axis":null},"y":{"field":"p","type":"quantitative","scale":{"domain":[1198.4,1310],"nice":false,"zero":false},"axis":null},"text":{"field":"t"}}},
{"data":{"name":"bands"},"mark":{"type":"line","strokeWidth":1,"color":"#2a2a96","clip":true},
"encoding":{"x":{"field":"i","type":"quantitative","scale":{"domain":[-0.9,179.1],"nice":false,"zero":false},"axis":null},"y":{"field":"p","type":"quantitative","scale":{"domain":[1198.4,1310],"nice":false,"zero":false},"axis":null},"detail":{"field":"s"}}},
{"data":{"name":"dots"},"mark":{"type":"line","strokeWidth":1,"strokeDash":[1.5,2],"clip":true},
"encoding":{"x":{"field":"i","type":"quantitative","scale":{"domain":[-0.9,179.1],"nice":false,"zero":false},"axis":null},"y":{"field":"p","type":"quantitative","scale":{"domain":[1198.4,1310],"nice":false,"zero":false},"axis":null},"color":{"field":"s","type":"nominal","scale":{"domain":["dU","dL"],"range":["#a0a030","#5a9030"]},"legend":null}}},
{"data":{"name":"trend"},"transform":[{"filter":"datum.s=='chU'||datum.s=='chL'"}],"mark":{"type":"line","strokeWidth":1.5,"color":"#e030e0","clip":true},
"encoding":{"x":{"field":"i","type":"quantitative","scale":{"domain":[-0.9,179.1],"nice":false,"zero":false},"axis":null},"y":{"field":"p","type":"quantitative","scale":{"domain":[1198.4,1310],"nice":false,"zero":false},"axis":null},"detail":{"field":"s"}}},
{"data":{"name":"trend"},"transform":[{"filter":"datum.s=='oT1'||datum.s=='oT2'"}],"mark":{"type":"line","strokeWidth":1,"color":"#c0602a","clip":true},
"encoding":{"x":{"field":"i","type":"quantitative","scale":{"domain":[-0.9,179.1],"nice":false,"zero":false},"axis":null},"y":{"field":"p","type":"quantitative","scale":{"domain":[1198.4,1310],"nice":false,"zero":false},"axis":null},"detail":{"field":"s"}}},
{"data":{"name":"trend"},"transform":[{"filter":"datum.s=='A1'||datum.s=='A2'"}],"mark":{"type":"line","strokeWidth":1.6,"color":"#f4884a","clip":true},
"encoding":{"x":{"field":"i","type":"quantitative","scale":{"domain":[-0.9,179.1],"nice":false,"zero":false},"axis":null},"y":{"field":"p","type":"quantitative","scale":{"domain":[1198.4,1310],"nice":false,"zero":false},"axis":null},"detail":{"field":"s"}}},
{"data":{"values":[{"i":161.1,"p":1261.4}]},"mark":{"type":"point","shape":"triangle-right","angle":9,"filled":true,"size":30,"color":"#f4884a","opacity":1},
"encoding":{"x":{"field":"i","type":"quantitative","scale":{"domain":[-0.9,179.1],"nice":false,"zero":false},"axis":null},"y":{"field":"p","type":"quantitative","scale":{"domain":[1198.4,1310],"nice":false,"zero":false},"axis":null}}},
{"data":{"values":[{"i":165,"p":1256}]},"mark":{"type":"point","shape":"triangle-right","angle":-15,"filled":true,"size":30,"color":"#f4884a","opacity":1},
"encoding":{"x":{"field":"i","type":"quantitative","scale":{"domain":[-0.9,179.1],"nice":false,"zero":false},"axis":null},"y":{"field":"p","type":"quantitative","scale":{"domain":[1198.4,1310],"nice":false,"zero":false},"axis":null}}},
{"data":{"name":"candles"},"mark":{"type":"rule","strokeWidth":1,"clip":true},
"encoding":{"x":{"field":"i","type":"quantitative","scale":{"domain":[-0.9,179.1],"nice":false,"zero":false},"axis":null},"y":{"field":"l","type":"quantitative","scale":{"domain":[1198.4,1310],"nice":false,"zero":false},"axis":null},"y2":{"field":"h"},"color":{"condition":{"test":"datum.c>=datum.o","value":"#e6d62a"},"value":"#e0566a"}}},
{"data":{"name":"candles"},"mark":{"type":"bar","size":2.4,"clip":true},
"encoding":{"x":{"field":"i","type":"quantitative","scale":{"domain":[-0.9,179.1],"nice":false,"zero":false},"axis":null},"y":{"field":"o","type":"quantitative","scale":{"domain":[1198.4,1310],"nice":false,"zero":false},"axis":null},"y2":{"field":"c"},"color":{"condition":{"test":"datum.c>=datum.o","value":"#e6d62a"},"value":"#e0566a"}}},
{"data":{"name":"boxes"},"mark":{"type":"rect","fill":null,"filled":false,"stroke":"#30d8e0","strokeWidth":1.5,"clip":true},
"encoding":{"x":{"field":"i1","type":"quantitative","scale":{"domain":[-0.9,179.1],"nice":false,"zero":false},"axis":null},"x2":{"field":"i2"},"y":{"field":"p1","type":"quantitative","scale":{"domain":[1198.4,1310],"nice":false,"zero":false},"axis":null},"y2":{"field":"p2"}}},
{"data":{"name":"marks"},"mark":{"type":"point","filled":true,"size":18,"color":"#c050f0","opacity":1},
"encoding":{"x":{"field":"i","type":"quantitative","scale":{"domain":[-0.9,179.1],"nice":false,"zero":false},"axis":null},"y":{"field":"p","type":"quantitative","scale":{"domain":[1198.4,1310],"nice":false,"zero":false},"axis":null},"shape":{"field":"k","type":"nominal","scale":{"domain":["down","up"],"range":["triangle-down","triangle-up"]},"legend":null}}}
]},
{"width":600,"height":60,
"layer":[
{"data":{"values":[{}]},"mark":{"type":"rule","color":"#8c8c8c","strokeWidth":2},"encoding":{"y":{"datum":59,"type":"quantitative","scale":{"domain":[0,60],"nice":false,"zero":false},"axis":null}}},
{"data":{"name":"rsi"},"transform":[{"filter":"datum.s=='U'||datum.s=='M'||datum.s=='L'"}],"mark":{"type":"line","strokeWidth":1.2,"color":"#2424b8","clip":true},
"encoding":{"x":{"field":"i","type":"quantitative","scale":{"domain":[-0.9,179.1],"nice":false,"zero":false},"axis":null},"y":{"field":"v","type":"quantitative","scale":{"domain":[0,60],"nice":false,"zero":false},"axis":null},"detail":{"field":"s"}}},
{"data":{"name":"rsi"},"transform":[{"filter":"datum.s=='D'"}],"mark":{"type":"line","strokeWidth":1,"color":"#9a9a9a","strokeDash":[1.5,2],"clip":true},
"encoding":{"x":{"field":"i","type":"quantitative","scale":{"domain":[-0.9,179.1],"nice":false,"zero":false},"axis":null},"y":{"field":"v","type":"quantitative","scale":{"domain":[0,60],"nice":false,"zero":false},"axis":null}}},
{"data":{"name":"rsi"},"transform":[{"filter":"datum.s=='B'"}],"mark":{"type":"line","strokeWidth":1,"color":"#7a4a20","clip":true},
"encoding":{"x":{"field":"i","type":"quantitative","scale":{"domain":[-0.9,179.1],"nice":false,"zero":false},"axis":null},"y":{"field":"v","type":"quantitative","scale":{"domain":[0,60],"nice":false,"zero":false},"axis":null}}},
{"data":{"name":"rsi"},"transform":[{"filter":"datum.s=='Y'"}],"mark":{"type":"line","strokeWidth":1.6,"color":"#f2f21e","clip":true},
"encoding":{"x":{"field":"i","type":"quantitative","scale":{"domain":[-0.9,179.1],"nice":false,"zero":false},"axis":null},"y":{"field":"v","type":"quantitative","scale":{"domain":[0,60],"nice":false,"zero":false},"axis":null}}},
{"data":{"name":"rsi"},"transform":[{"filter":"datum.s=='A3'||datum.s=='A4'"}],"mark":{"type":"line","strokeWidth":1.6,"color":"#f4884a","clip":true},
"encoding":{"x":{"field":"i","type":"quantitative","scale":{"domain":[-0.9,179.1],"nice":false,"zero":false},"axis":null},"y":{"field":"v","type":"quantitative","scale":{"domain":[0,60],"nice":false,"zero":false},"axis":null},"detail":{"field":"s"}}},
{"data":{"values":[{"i":145.2,"v":51}]},"mark":{"type":"point","shape":"triangle-right","angle":-2,"filled":true,"size":30,"color":"#f4884a","opacity":1},
"encoding":{"x":{"field":"i","type":"quantitative","scale":{"domain":[-0.9,179.1],"nice":false,"zero":false},"axis":null},"y":{"field":"v","type":"quantitative","scale":{"domain":[0,60],"nice":false,"zero":false},"axis":null}}},
{"data":{"values":[{"i":166.2,"v":46}]},"mark":{"type":"point","shape":"triangle-right","angle":19,"filled":true,"size":30,"color":"#f4884a","opacity":1},
"encoding":{"x":{"field":"i","type":"quantitative","scale":{"domain":[-0.9,179.1],"nice":false,"zero":false},"axis":null},"y":{"field":"v","type":"quantitative","scale":{"domain":[0,60],"nice":false,"zero":false},"axis":null}}}
]},
{"width":600,"height":72,
"layer":[
{"data":{"values":[{}]},"mark":{"type":"rule","color":"#8c8c8c","strokeWidth":2},"encoding":{"y":{"datum":71,"type":"quantitative","scale":{"domain":[0,72],"nice":false,"zero":false},"axis":null}}},
{"data":{"name":"cy"},"transform":[{"filter":"datum.s=='B1'||datum.s=='B2'||datum.s=='B3'"}],"mark":{"type":"line","strokeWidth":1.2,"color":"#3440c0","clip":true},
"encoding":{"x":{"field":"i","type":"quantitative","scale":{"domain":[-0.9,179.1],"nice":false,"zero":false},"axis":null},"y":{"field":"v","type":"quantitative","scale":{"domain":[0,72],"nice":false,"zero":false},"axis":null},"detail":{"field":"s"}}},
{"data":{"name":"cy"},"transform":[{"filter":"datum.s=='R'||datum.s=='O'"}],"mark":{"type":"line","strokeWidth":1,"clip":true},
"encoding":{"x":{"field":"i","type":"quantitative","scale":{"domain":[-0.9,179.1],"nice":false,"zero":false},"axis":null},"y":{"field":"v","type":"quantitative","scale":{"domain":[0,72],"nice":false,"zero":false},"axis":null},"color":{"field":"s","type":"nominal","scale":{"domain":["R","O"],"range":["#a02a14","#8a5a20"]},"legend":null}}},
{"data":{"name":"cy"},"transform":[{"filter":"datum.s=='C'"}],"mark":{"type":"line","strokeWidth":1.6,"color":"#30e0e8","clip":true},
"encoding":{"x":{"field":"i","type":"quantitative","scale":{"domain":[-0.9,179.1],"nice":false,"zero":false},"axis":null},"y":{"field":"v","type":"quantitative","scale":{"domain":[0,72],"nice":false,"zero":false},"axis":null}}}
]},
{"width":600,"height":48,
"layer":[
{"data":{"name":"hist"},"mark":{"type":"bar","size":1.6},
"encoding":{"x":{"field":"i","type":"quantitative","scale":{"domain":[-0.9,179.1],"nice":false,"zero":false},
"axis":{"values":[5.4,13.21,21.02,28.83,36.64,44.45,52.26,60.07,67.88,75.69,83.5,91.31,99.12,106.93,114.74,122.55,130.36,138.17,145.98,153.79,161.6],"labels":false,"title":null,"grid":false,"domainColor":"#8c8c8c","domainWidth":2,"tickColor":"#8c8c8c","tickSize":2}},
"y":{"field":"v","type":"quantitative","scale":{"domain":[-23,25],"nice":false,"zero":false},"axis":null},"y2":{"datum":0},
"color":{"condition":{"test":"datum.v>=0","value":"#3a8ad8"},"value":"#d0207a"}}},
{"data":{"values":[{}]},"mark":{"type":"rule","color":"#8c8c8c","strokeWidth":2},"encoding":{"y":{"datum":24,"type":"quantitative"}}},
{"data":{"name":"macd"},"transform":[{"filter":"datum.s=='D'"}],"mark":{"type":"line","strokeWidth":1,"color":"#707070","strokeDash":[1.5,2],"clip":true},
"encoding":{"x":{"field":"i","type":"quantitative"},"y":{"field":"v","type":"quantitative"}}},
{"data":{"name":"macd"},"transform":[{"filter":"datum.s=='O'"}],"mark":{"type":"line","strokeWidth":1.2,"color":"#e04818","clip":true},
"encoding":{"x":{"field":"i","type":"quantitative"},"y":{"field":"v","type":"quantitative"}}},
{"data":{"name":"macd"},"transform":[{"filter":"datum.s=='W'"}],"mark":{"type":"line","strokeWidth":1.5,"color":"#f8ecd0","clip":true},
"encoding":{"x":{"field":"i","type":"quantitative"},"y":{"field":"v","type":"quantitative"}}}
]},
{"width":600,"height":7,
"data":{"name":"ticks"},
"mark":{"type":"text","align":"left","baseline":"middle","fontSize":4,"font":"Liberation Sans","color":"#c8c8c8","dx":1},
"encoding":{"x":{"field":"i","type":"quantitative","scale":{"domain":[-0.9,179.1],"nice":false,"zero":false},"axis":null},"text":{"field":"t"}}}
]
}
